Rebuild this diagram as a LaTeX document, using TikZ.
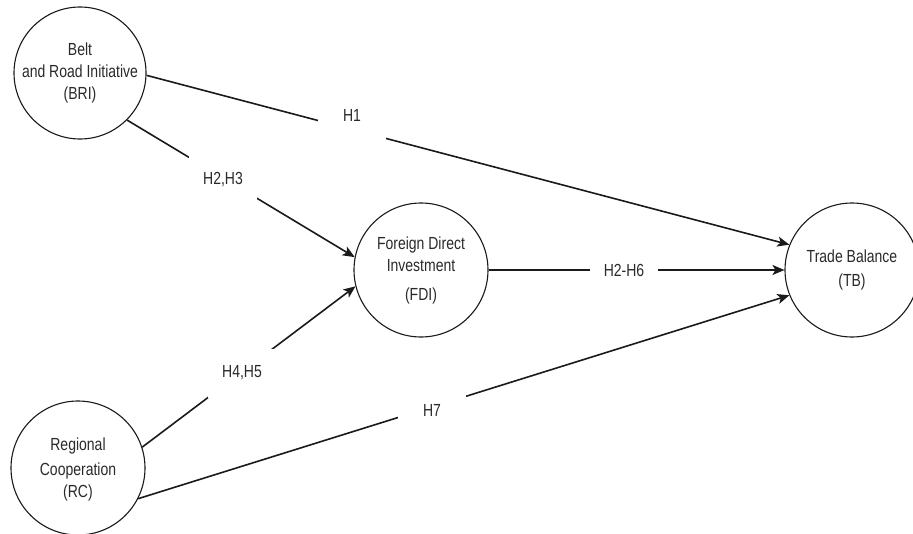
\documentclass[tikz,border=0pt]{standalone}
\usepackage{fontspec}
\setmainfont{Liberation Sans}[FakeStretch=0.8]
\usetikzlibrary{arrows.meta}
\definecolor{ink}{HTML}{1A1A1A}
\definecolor{txt}{HTML}{2A2A2A}
\begin{document}
\begin{tikzpicture}[x=1pt,y=-1pt,
  var/.style={circle, draw=ink, line width=1.1pt, minimum size=134pt, inner sep=0pt,
    align=center, text=txt, font=\fontsize{17.5}{22}\selectfont},
  arr/.style={draw=ink, line width=1.6pt, -{Stealth[length=12pt,width=10pt,inset=3pt]}},
  lbl/.style={fill=white, minimum width=68pt, minimum height=49pt, inner sep=0pt,
    text=txt, font=\fontsize{17.5}{22}\selectfont}]
\useasboundingbox[fill=white] (0,0) rectangle (913,533);

\node[var, minimum size=132pt] (bri) at (80,73) {Belt\\and Road Initiative\\(BRI)};
\node[var] (fdi) at (421,270) {Foreign Direct\\Investment\\[7pt](FDI)};
\node[var] (tb) at (852,270) {Trade Balance\\[2pt](TB)};
\node[var, text depth=-8pt] (rc) at (78,468) {Regional\\[3pt]Cooperation\\(RC)};

\draw[arr] (bri.-2) -- (tb.158);
\draw[arr] (bri.-45) -- (fdi.169);
\draw[arr] (rc.18) -- (fdi.194);
\draw[arr] (fdi.east) -- (tb.west);
\draw[arr] (rc.-27) -- (tb.202);

\node[lbl] (h1) at (352,115) {H1};
\node[lbl] (h23) at (223,180) {H2,H3};
\node[lbl] (h45) at (242,373) {H4,H5};
\node[lbl] (h26) at (624,270) {H2-H6};
\node[lbl] (h7) at (432,410) {H7};
\end{tikzpicture}
\end{document}
